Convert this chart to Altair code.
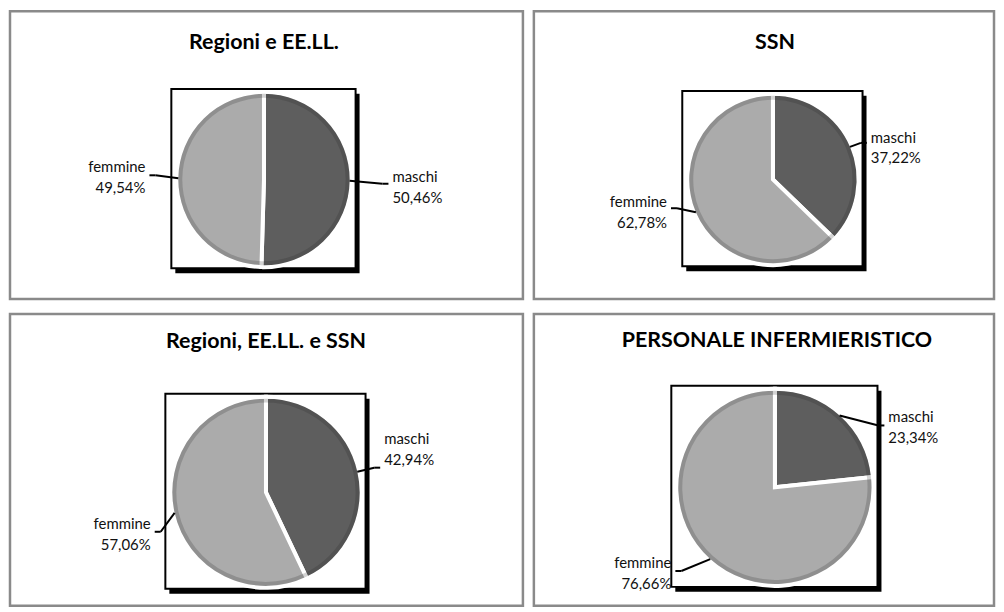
import altair as alt
import numpy as np
import pandas as pd

# ---- data ----
titles = ["Regioni e EE.LL.", "SSN", "Regioni, EE.LL. e SSN", "PERSONALE INFERMIERISTICO"]
categories = ["maschi", "femmine"]
maschi = [50.46, 37.22, 42.94, 23.34]
femmine = [49.54, 62.78, 57.06, 76.66]

# ---- styles / layout ----
colors = ["#5e5e5e", "#ababab"]
FONT = "Lato"
LABEL_SIZE = 15
LINE_H = 21
layout = [
    dict(W=515, H=289, cx=255, cy=169, r=86, tx=255, ty=32),
    dict(W=462, H=289, cx=240, cy=169, r=84, tx=242, ty=32),
    dict(W=515, H=293, cx=257, cy=179, r=94, tx=257, ty=28),
    dict(W=462, H=293, cx=242, cy=174, r=97, tx=244, ty=27),
]
# leader end offset from the slice edge point (dx, dy) and first-line offset
label_offsets = [
    {"maschi": (39, 3, -4), "femmine": (-29, -3, -6)},
    {"maschi": (17, -4, -3), "femmine": (-25, -4, -4)},
    {"maschi": (23, -4, -26), "femmine": (-20, 19, -5)},
    {"maschi": (45, 10, -6), "femmine": (-35, 12, -6)},
]


def panel(i):
    L = layout[i]
    cx, cy, r = L["cx"], L["cy"], L["r"]
    vals = [maschi[i], femmine[i]]
    df = pd.DataFrame({"sesso": categories, "valore": vals, "ordine": [0, 1]})
    df["etichetta"] = [
        f"{c}\n{v:.2f}".replace(".", ",") + "%" for c, v in zip(categories, vals)
    ]
    mid = np.cumsum(vals) - np.array(vals) / 2
    ang = 2 * np.pi * mid / 100.0
    ex, ey = cx + r * np.sin(ang), cy - r * np.cos(ang)
    offs = [label_offsets[i][c] for c in categories]
    dx = np.array([o[0] for o in offs])
    dy = np.array([o[1] for o in offs])
    ldy = np.array([o[2] for o in offs])
    side = np.sign(dx)
    endx, endy = ex + dx, ey + dy
    elbx = endx - side * 6
    df["tx"] = endx + side * 4
    df["ty"] = endy + ldy - LABEL_SIZE * 0.62
    df["side"] = np.where(side > 0, "dx", "sx")
    segs = pd.DataFrame({
        "x": np.concatenate([ex, elbx]), "y": np.concatenate([ey, endy]),
        "x2": np.concatenate([elbx, endx]), "y2": np.concatenate([endy, endy]),
    })

    frame = pd.DataFrame({
        "x": [cx - r - 7 + 4, cx - r - 7], "x2": [cx + r + 6 + 4, cx + r + 6],
        "y": [cy - r - 5 + 5, cy - r - 5], "y2": [cy + r + 3 + 5, cy + r + 3],
        "k": ["ombra", "cornice"],
    })

    X = lambda f: alt.X(f, scale=None, axis=None)
    Y = lambda f: alt.Y(f, scale=None, axis=None)

    shadow = alt.Chart(frame).transform_filter(alt.datum.k == "ombra").mark_rect(
        fill="black").encode(x=X("x:Q"), x2="x2:Q", y=Y("y:Q"), y2="y2:Q")
    box = alt.Chart(frame).transform_filter(alt.datum.k == "cornice").mark_rect(
        fill="white", stroke="black", strokeWidth=2).encode(
        x=X("x:Q"), x2="x2:Q", y=Y("y:Q"), y2="y2:Q")

    pie = alt.Chart(df).mark_arc(radius=r + 2, stroke="white", strokeWidth=4).encode(
        theta=alt.Theta("valore:Q", stack=True),
        order=alt.Order("ordine:Q"),
        color=alt.Color("sesso:N", scale=alt.Scale(domain=categories, range=colors), legend=None),
        x=alt.value(cx), y=alt.value(cy),
    )
    rim = alt.Chart(df).mark_arc(radius=r, radius2=r - 4, opacity=0.2, color="#222").encode(
        theta=alt.Theta("valore:Q", stack=True),
        order=alt.Order("ordine:Q"),
        x=alt.value(cx), y=alt.value(cy),
    )

    leaders = alt.Chart(segs).mark_rule(color="black", strokeWidth=2).encode(
        x=X("x:Q"), x2="x2:Q", y=Y("y:Q"), y2="y2:Q")

    common = dict(baseline="top", lineBreak="\n", fontSize=LABEL_SIZE,
                  lineHeight=LINE_H, font=FONT, color="#111")
    lab_l = alt.Chart(df).transform_filter(alt.datum.side == "dx").mark_text(
        align="left", **common).encode(x=X("tx:Q"), y=Y("ty:Q"), text="etichetta:N")
    lab_r = alt.Chart(df).transform_filter(alt.datum.side == "sx").mark_text(
        align="right", **common).encode(x=X("tx:Q"), y=Y("ty:Q"), text="etichetta:N")

    title = alt.Chart(pd.DataFrame({"titolo": [titles[i]]})).mark_text(
        fontSize=21.5, fontWeight="bold", font=FONT, color="black", baseline="middle").encode(
        text="titolo:N", x=alt.value(L["tx"]), y=alt.value(L["ty"]))

    return alt.layer(shadow, box, pie, rim, leaders, lab_l, lab_r, title).properties(
        width=L["W"], height=L["H"])


chart = alt.vconcat(
    alt.hconcat(panel(0), panel(1), spacing=7),
    alt.hconcat(panel(2), panel(3), spacing=7),
    spacing=11,
).properties(padding=0, background="white").configure_view(
    stroke="#8a8a8a", strokeWidth=2.5
)

chart.save("out.html", embed_options={"renderer": "svg", "actions": False})
